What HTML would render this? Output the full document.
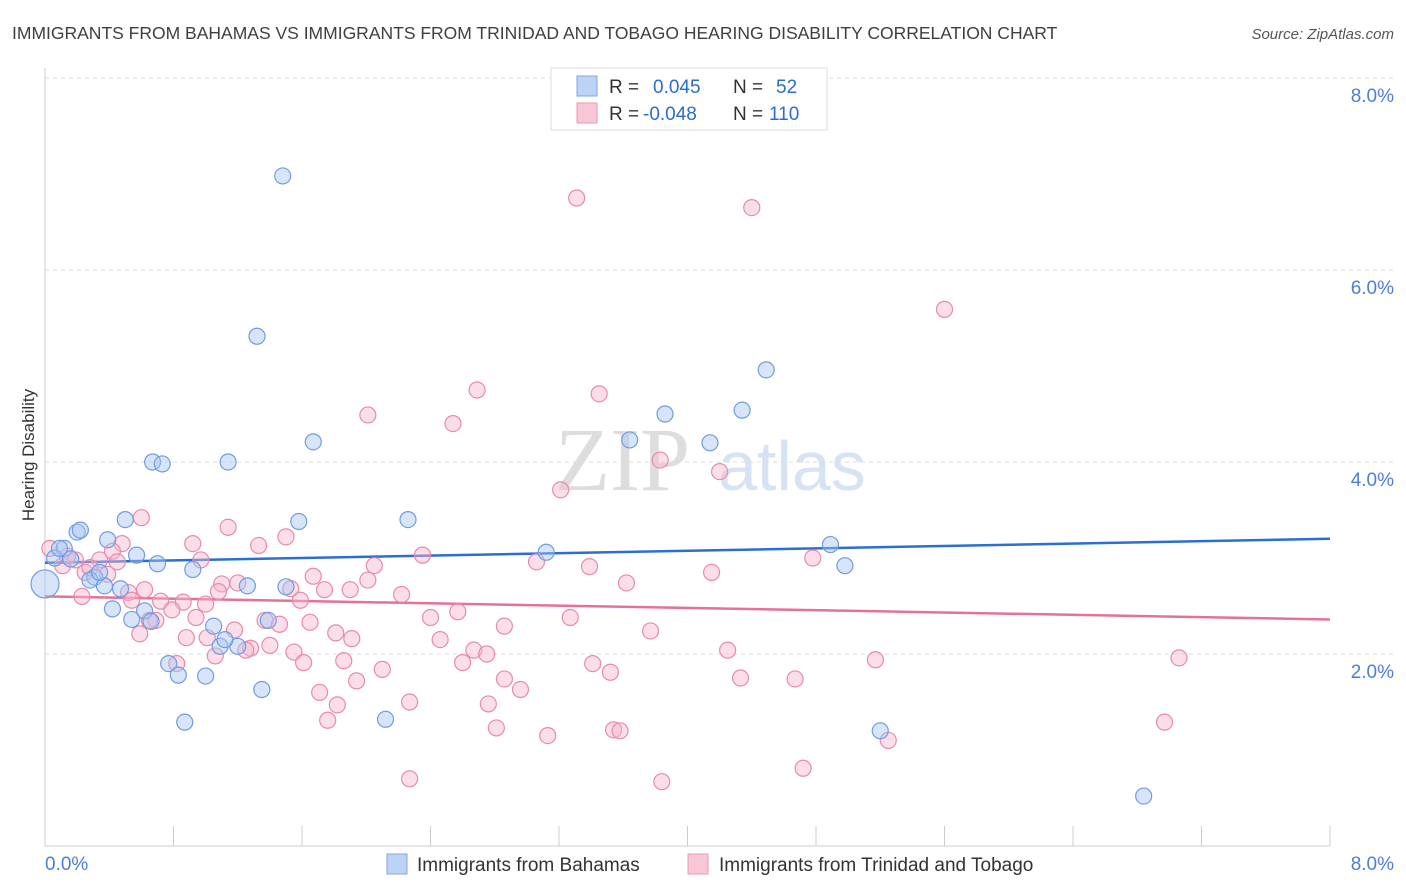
<!DOCTYPE html>
<html><head><meta charset="utf-8"><style>
body{margin:0;background:#fff;font-family:"Liberation Sans",sans-serif;}
svg{display:block}
</style></head><body>
<svg width="1406" height="892" viewBox="0 0 1406 892" id="chart">
<text x="12" y="39" font-size="17.5" fill="#3c4043">IMMIGRANTS FROM BAHAMAS VS IMMIGRANTS FROM TRINIDAD AND TOBAGO HEARING DISABILITY CORRELATION CHART</text>
<text x="1394" y="39" font-size="15" fill="#555" font-style="italic" text-anchor="end">Source: ZipAtlas.com</text>
<text transform="translate(34,455) rotate(-90)" font-size="17" fill="#333" text-anchor="middle">Hearing Disability</text>
<g><text x="555" y="490" font-size="90" fill="#ddd" font-family="Liberation Serif,serif">ZIP</text><text x="718" y="490" font-size="70" fill="#d6e3f5">atlas</text></g>
<g id="grid"></g><g id="ticks"></g>
<g id="lines"></g><g id="pts"></g>
<g>
<rect x="551" y="68" width="276" height="62" fill="#fff" stroke="#ddd"/>
<rect x="577" y="76" width="20" height="20" fill="#bcd3f5" stroke="#7fa6e6"/>
<rect x="577" y="103" width="20" height="20" fill="#f9c6d6" stroke="#ec9ab5"/>
<text x="609" y="93" font-size="19" fill="#333">R = <tspan fill="#2b6cd1" x="653">0.045</tspan><tspan x="733" fill="#333">N =</tspan><tspan x="776" fill="#2b6cd1">52</tspan></text>
<text x="609" y="120" font-size="19" fill="#333">R = <tspan fill="#2b6cd1" x="643">-0.048</tspan><tspan x="733" fill="#333">N =</tspan><tspan x="769" fill="#2b6cd1">110</tspan></text>
</g>
<g>
<rect x="387" y="854" width="20" height="20" fill="#bcd3f5" stroke="#7fa6e6"/>
<text x="417" y="871" font-size="19" fill="#333">Immigrants from Bahamas</text>
<rect x="688" y="854" width="20" height="20" fill="#f9c6d6" stroke="#ec9ab5"/>
<text x="719" y="871" font-size="19" fill="#333">Immigrants from Trinidad and Tobago</text>
</g>
</svg>
<script>
const yTicks=[2,4,6,8];
const yTickLabels=["2.0%","4.0%","6.0%","8.0%"];
const xTickLabels=["0.0%","8.0%"];
const blueX=[1.48,1.32,0.67,1.14,1.67,0.73,4.49,4.34,3.86,3.64,4.14,0.5,0.2,0.22,1.58,2.26,0.39,0.12,0.57,0.70,0.92,3.12,4.89,4.98,0.31,0.28,0.37,0.47,1.26,1.50,0.42,0.62,0.54,0.66,1.39,1.05,0.77,1.09,1.20,0.83,1.00,1.35,0.87,2.12,5.20,6.84,0.06,0.16,0.0,0.34,0.09,1.12];
const blueY=[6.98,5.31,4.00,4.00,4.21,3.98,4.96,4.54,4.50,4.23,4.20,3.40,3.27,3.29,3.38,3.40,3.19,3.10,3.03,2.94,2.88,3.06,3.14,2.92,2.80,2.77,2.71,2.68,2.71,2.70,2.47,2.45,2.36,2.34,2.35,2.29,1.90,2.08,2.08,1.78,1.77,1.63,1.29,1.32,1.20,0.52,3.00,2.99,2.73,2.85,3.10,2.15];
const pinkX=[3.31,4.40,5.60,2.69,3.45,2.01,2.54,3.83,4.20,3.21,0.60,1.14,1.50,0.92,1.33,0.48,0.42,0.03,0.19,0.11,0.25,0.45,2.35,2.05,3.06,3.39,4.78,1.67,2.01,3.62,4.15,1.20,1.10,1.53,1.74,1.90,2.22,1.08,0.62,0.52,0.23,0.72,0.86,1.00,0.79,0.94,1.37,1.46,1.65,2.40,2.57,3.27,2.86,3.77,0.59,0.69,1.18,0.88,1.01,1.81,1.91,1.28,1.40,1.55,2.67,2.75,4.25,5.17,7.06,0.82,1.06,1.25,1.61,1.86,2.10,2.60,3.41,3.52,1.94,2.86,4.33,4.67,1.71,1.82,2.76,2.27,1.76,2.81,3.13,3.54,3.58,5.25,6.97,2.27,3.84,4.72,0.34,0.28,0.14,0.39,0.54,0.65,0.97,1.59,2.46,2.96];
const pinkY=[6.75,6.65,5.59,4.75,4.71,4.49,4.40,4.02,3.90,3.71,3.42,3.32,3.22,3.15,3.13,3.15,3.07,3.10,2.98,2.92,2.85,2.96,3.03,2.92,2.96,2.91,3.00,2.81,2.77,2.74,2.85,2.74,2.73,2.68,2.67,2.67,2.62,2.65,2.67,2.64,2.60,2.55,2.54,2.52,2.46,2.38,2.35,2.31,2.33,2.38,2.44,2.38,2.29,2.24,2.21,2.35,2.25,2.17,2.17,2.22,2.16,2.06,2.09,2.02,2.04,2.00,2.04,1.94,1.96,1.90,1.98,2.04,1.91,1.93,1.84,1.91,1.90,1.81,1.72,1.74,1.75,1.74,1.60,1.47,1.48,1.50,1.31,1.23,1.15,1.21,1.20,1.10,1.29,0.70,0.67,0.81,2.98,2.90,3.02,2.83,2.56,2.35,2.98,2.56,2.15,1.63];
const blueTrend=[2.95,3.2];
const pinkTrend=[2.6,2.36];
const NS="http://www.w3.org/2000/svg";
const X0=45,X1=1330,Y0=846,PY=96;
const sx=v=>X0+(v/8)*(X1-X0);
const sy=v=>Y0-v*PY;
function mk(tag,attrs,parent){const e=document.createElementNS(NS,tag);for(const k in attrs)e.setAttribute(k,attrs[k]);document.getElementById(parent).appendChild(e);return e;}
yTicks.forEach((t,i)=>{
 const g=mk('line',{x1:X0,x2:1394,y1:sy(t)-(t==8?-0:0),y2:sy(t),stroke:'#ddd','stroke-dasharray':'4,4'},'grid');
 
 
 const l=mk('text',{x:1394,y:sy(t)+24,'font-size':19,fill:'#4a7fd6','text-anchor':'end'},'grid');l.textContent=yTickLabels[i];
 
 
});
const ax=mk('line',{x1:X0,x2:X0,y1:68,y2:Y0,stroke:'#ccc'},'ticks');


const bx=mk('line',{x1:X0,x2:X1,y1:Y0,y2:Y0,stroke:'#ccc'},'ticks');


for(let i=0;i<=10;i++){const t=mk('line',{x1:sx(i*0.8),x2:sx(i*0.8),y1:826,y2:Y0,stroke:'#ccc'},'ticks');
 
 }
[[0,'start',45],[8,'end',1394]].forEach(([v,a,x],i)=>{const t=mk('text',{x:x,y:870,'font-size':19,fill:'#4a7fd6','text-anchor':a},'ticks');t.textContent=xTickLabels[i];
 
 });
function pts(xs,ys,fill,stroke,name){xs.forEach((x,i)=>{const c=mk('circle',{cx:sx(x),cy:sy(ys[i]),r:(x==0?14:8),fill:fill,'fill-opacity':0.45,stroke:stroke,'stroke-width':1.2},'pts');
 
 });}
pts(pinkX,pinkY,'#f7b6cb','#e98aab','trinidad-point');
pts(blueX,blueY,'#a9c6f2','#6f9ce3','bahamas-point');
const bl=mk('line',{x1:sx(0),x2:sx(8),y1:sy(blueTrend[0]),y2:sy(blueTrend[1]),stroke:'#2a6fd4','stroke-width':2.5},'lines');


const pl=mk('line',{x1:sx(0),x2:sx(8),y1:sy(pinkTrend[0]),y2:sy(pinkTrend[1]),stroke:'#e5709a','stroke-width':2.5},'lines');


</script>
</body></html>
